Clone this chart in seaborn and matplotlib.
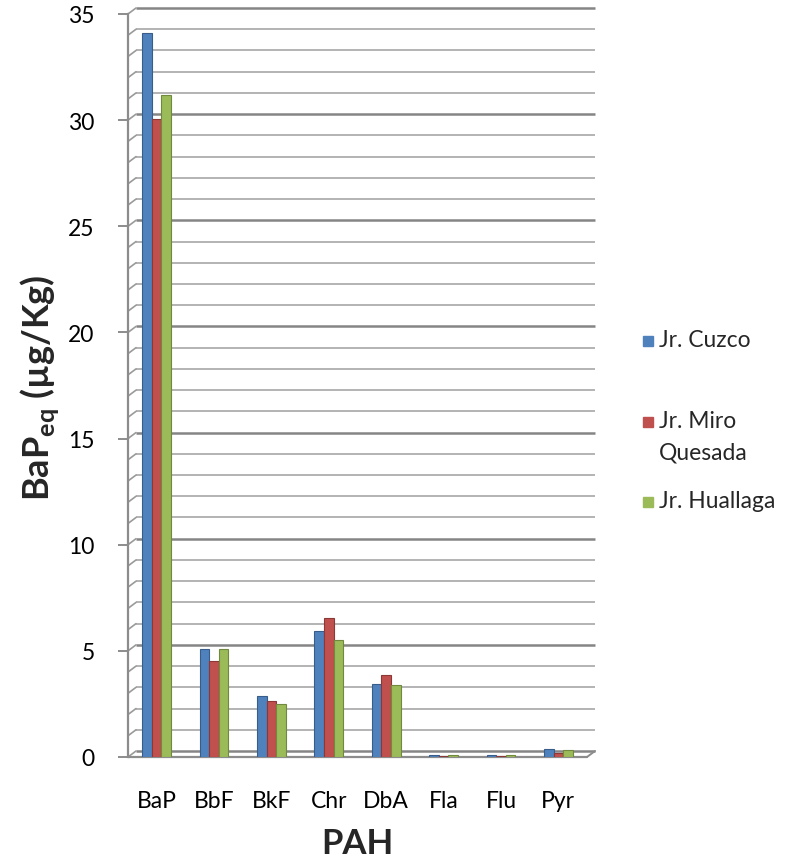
import numpy as np
import pandas as pd
import matplotlib
matplotlib.use("Agg")
import matplotlib.pyplot as plt
import seaborn as sns
from matplotlib.patches import Rectangle

# PAH benzo[a]pyrene-equivalent concentrations by street
pah = ["BaP", "BbF", "BkF", "Chr", "DbA", "Fla", "Flu", "Pyr"]
streets = ["Jr. Cuzco", "Jr. Miro Quesada", "Jr. Huallaga"]
cuzco = [34.1, 5.1, 2.87, 5.95, 3.45, 0.1, 0.1, 0.4]
miro_quesada = [30.05, 4.52, 2.63, 6.55, 3.86, 0.05, 0.05, 0.18]
huallaga = [31.2, 5.1, 2.5, 5.5, 3.38, 0.1, 0.08, 0.35]
legend_labels = ["Jr. Cuzco", "Jr. Miro\nQuesada", "Jr. Huallaga"]
colors = ["#4F81BD", "#C0504D", "#9BBB59"]
edge_colors = ["#385D8A", "#8C3836", "#71893F"]

df = pd.DataFrame({
    "PAH": pah * 3,
    "street": np.repeat(streets, len(pah)),
    "value": cuzco + miro_quesada + huallaga,
})

sns.set_theme(style="white")
plt.rcParams["font.family"] = ["Lato", "DejaVu Sans"]
plt.rcParams["mathtext.fontset"] = "custom"
plt.rcParams["mathtext.rm"] = "Lato"
plt.rcParams["mathtext.bf"] = "Lato:bold"

W, H, DPI = 805, 862, 100
fig = plt.figure(figsize=(W / DPI, H / DPI), dpi=DPI)
ax_l, ax_r, ax_b, ax_t = 128, 587, 758, 15
ax = fig.add_axes([ax_l / W, 1 - ax_b / H, (ax_r - ax_l) / W, (ax_b - ax_t) / H])

sns.barplot(data=df, x="PAH", y="value", hue="street", hue_order=streets,
            order=pah, palette=colors, width=0.5, ax=ax, legend=False,
            saturation=1, zorder=3)
for i, cont in enumerate(ax.containers):
    for bar in cont:
        bar.set_edgecolor(edge_colors[i])
        bar.set_linewidth(0.8)

ymax = 35
ax.set_xlim(-0.5, len(pah) - 0.5)
ax.set_ylim(0, ymax)
ax.set_yticks(np.arange(0, ymax + 1, 5))
ax.tick_params(axis="y", which="major", length=7, width=1.4, color="#8C8C8C",
               pad=17, labelsize=16.5, labelcolor="#000000", left=True)
ax.tick_params(axis="x", length=0, pad=24, labelsize=16.5, labelcolor="#000000")
for s in ["top", "right", "bottom"]:
    ax.spines[s].set_visible(False)
ax.spines["left"].set_color("#8C8C8C")
ax.spines["left"].set_linewidth(1.6)
ax.set_ylabel("")
ax.set_xlabel("PAH", fontsize=25, fontweight="bold", labelpad=11)

# back wall of the chart: gridlines shifted up/right by the depth offset
dx_px, dy_px = 8, 6
x_per_px = len(pah) / (ax_r - ax_l)
y_per_px = ymax / (ax_b - ax_t)
ddx, ddy = dx_px * x_per_px, dy_px * y_per_px
x0, x1 = -0.5, len(pah) - 0.5
for v in range(0, ymax + 1):
    major = v % 5 == 0
    c = "#858585" if major else "#B3B3B3"
    lw = 1.8 if major else 1.4
    ax.plot([x0 + ddx, x1 + ddx], [v + ddy, v + ddy], color=c, lw=lw,
            clip_on=False, zorder=1, solid_capstyle="butt")
    ax.plot([x0, x0 + ddx], [v, v + ddy], color="#9A9A9A", lw=1.2,
            clip_on=False, zorder=1)
# floor front edge and right corner
ax.plot([x0, x1], [0, 0], color="#8C8C8C", lw=1.6, clip_on=False, zorder=2)
ax.plot([x1, x1 + ddx], [0, ddy], color="#8C8C8C", lw=1.4, clip_on=False, zorder=2)

# y-axis title with subscript
fig.text(40 / W, 1 - 388 / H, r"BaP$_{\mathbf{eq}}$ (µg/Kg)", rotation=90,
         ha="center", va="center", fontsize=26, fontweight="bold")

# legend
leg_x = 643
leg_rows = [342, 423, 503]
for lab, col, yy in zip(legend_labels, colors, leg_rows):
    fig.patches.append(Rectangle((leg_x / W, 1 - (yy + 5) / H), 10 / W, 10 / H,
                                 transform=fig.transFigure, color=col))
    fig.text((leg_x + 16) / W, 1 - (yy - 12) / H, lab, ha="left", va="top",
             fontsize=16.5, linespacing=1.6)

fig.savefig("out.png", dpi=DPI)
